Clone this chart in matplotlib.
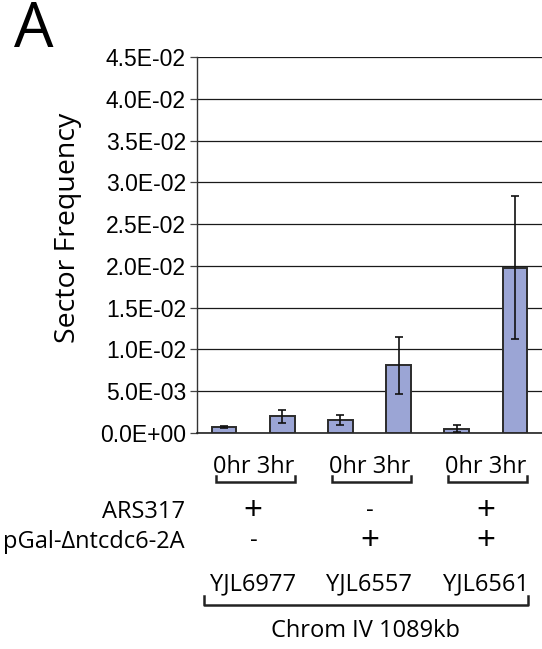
import numpy as np
import matplotlib
matplotlib.use("Agg")
import matplotlib.pyplot as plt

# ---------------------------------------------------------------------------
# Data
# ---------------------------------------------------------------------------
pair_labels = ["0hr 3hr", "0hr 3hr", "0hr 3hr"]
sector_freq = [0.0007, 0.0020, 0.0016, 0.0081, 0.0005, 0.0198]
sector_err  = [0.0001, 0.0008, 0.0006, 0.0034, 0.0004, 0.0086]
strains     = ["YJL6977", "YJL6557", "YJL6561"]
ars317      = ["+", "-", "+"]
pgal        = ["-", "+", "+"]
yticks      = np.arange(0, 0.0451, 0.005)
ytick_labels = ["0.0E+00", "5.0E-03", "1.0E-02", "1.5E-02", "2.0E-02",
                "2.5E-02", "3.0E-02", "3.5E-02", "4.0E-02", "4.5E-02"]

W, H = 542, 649
fig = plt.figure(figsize=(W / 100, H / 100), dpi=100)
ax = fig.add_axes([197 / W, (H - 433) / H, (542 - 197) / W, 376 / H])

TICK_FONT = "Liberation Sans"
LAB_FONT = "Open Sans"

x = np.arange(len(sector_freq))
ax.bar(x, sector_freq, width=0.42, color="#9BA5D5", edgecolor="#2b2b2b",
       linewidth=1.4, zorder=3)
ax.errorbar(x, sector_freq, yerr=sector_err, fmt="none", ecolor="#111111",
            elinewidth=1.2, capsize=3, capthick=1.2, zorder=4)

ax.set_xlim(-0.47, 5.47)
ax.set_ylim(0, 0.045)
ax.set_yticks(yticks)
ax.set_yticklabels(ytick_labels, fontsize=16.5, family=TICK_FONT)
ax.set_xticks([])
ax.yaxis.grid(True, color="#1a1a1a", linewidth=0.9)
ax.set_axisbelow(True)
ax.tick_params(axis="y", length=5, width=0.9, color="#444444", pad=3)
for s in ["top", "right"]:
    ax.spines[s].set_visible(False)
ax.spines["left"].set_color("#333333")
ax.spines["bottom"].set_color("#222222")
ax.spines["left"].set_linewidth(1.0)
ax.spines["bottom"].set_linewidth(1.2)

fig.text(68 / W, 1 - 228 / H, "Sector Frequency", rotation=90, ha="center",
         va="center", fontsize=20.5, family=LAB_FONT)
fig.text(14 / W, 1 - 31 / H, "A", ha="left", va="center", fontsize=45,
         family=LAB_FONT)

trans = ax.get_xaxis_transform()
def fy(ypix):
    return (433 - ypix) / 376

# time labels + brackets under each pair
centers = [(x[2 * g] + x[2 * g + 1]) / 2 for g in range(3)]
for c, lab in zip(centers, pair_labels):
    ax.text(c, fy(467), lab, transform=trans, ha="center", va="center",
            fontsize=17, family=LAB_FONT, clip_on=False)
    x0, x1 = c - 0.64, c + 0.72
    ax.plot([x0, x0, x1, x1], [fy(476), fy(482), fy(482), fy(476)],
            transform=trans, color="#222222", linewidth=1.8, clip_on=False,
            solid_joinstyle="miter")

# genotype rows
fig.text(185 / W, 1 - 512 / H, "ARS317", ha="right", va="center",
         fontsize=17, family=LAB_FONT)
fig.text(185 / W, 1 - 542 / H, "pGal-\u0394ntcdc6-2A", ha="right", va="center",
         fontsize=17, family=LAB_FONT)
for c, a, p in zip(centers, ars317, pgal):
    ax.text(c, fy(511), a, transform=trans, ha="center", va="center",
            fontsize=24 if a == "+" else 17, family=LAB_FONT, clip_on=False)
    ax.text(c, fy(541), p, transform=trans, ha="center", va="center",
            fontsize=24 if p == "+" else 17, family=LAB_FONT, clip_on=False)
for c, s in zip(centers, strains):
    ax.text(c, fy(584), s, transform=trans, ha="center", va="center",
            fontsize=17, family=LAB_FONT, clip_on=False)

bx0, bx1 = (204 - 224) / 58, (527 - 224) / 58
ax.plot([bx0, bx0, bx1, bx1], [fy(596), fy(605), fy(605), fy(596)],
        transform=trans, color="#222222", linewidth=1.8, clip_on=False)
ax.text((bx0 + bx1) / 2, fy(631), "Chrom IV 1089kb", transform=trans,
        ha="center", va="center", fontsize=17, family=LAB_FONT, clip_on=False)

fig.savefig("out.png", dpi=100)
